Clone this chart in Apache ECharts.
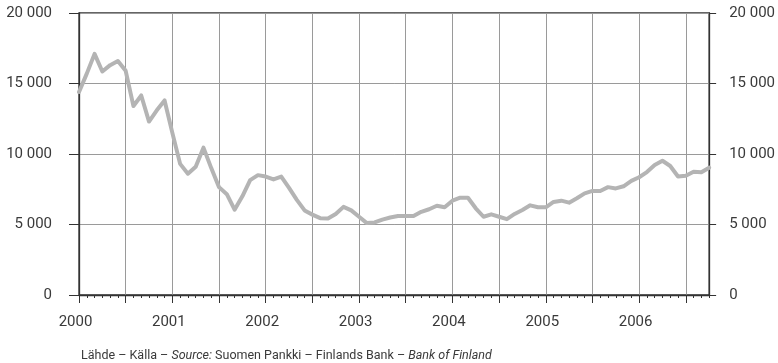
<!DOCTYPE html>
<html><head><meta charset="utf-8">
<script src="https://cdn.jsdelivr.net/npm/echarts@6/dist/echarts.min.js"></script>
<style>html,body{margin:0;padding:0;background:#fff}#c{width:778px;height:363px}</style>
</head><body><div id="c"></div>
<script>
const categories = [
 '2000-01','2000-02','2000-03','2000-04','2000-05','2000-06','2000-07','2000-08','2000-09','2000-10','2000-11','2000-12',
 '2001-01','2001-02','2001-03','2001-04','2001-05','2001-06','2001-07','2001-08','2001-09','2001-10','2001-11','2001-12',
 '2002-01','2002-02','2002-03','2002-04','2002-05','2002-06','2002-07','2002-08','2002-09','2002-10','2002-11','2002-12',
 '2003-01','2003-02','2003-03','2003-04','2003-05','2003-06','2003-07','2003-08','2003-09','2003-10','2003-11','2003-12',
 '2004-01','2004-02','2004-03','2004-04','2004-05','2004-06','2004-07','2004-08','2004-09','2004-10','2004-11','2004-12',
 '2005-01','2005-02','2005-03','2005-04','2005-05','2005-06','2005-07','2005-08','2005-09','2005-10','2005-11','2005-12',
 '2006-01','2006-02','2006-03','2006-04','2006-05','2006-06','2006-07','2006-08','2006-09','2006-10'
];
const values = [
 14400,15700,17100,15850,16300,16600,15900,13400,14150,12300,13100,13800,
 11500,9300,8600,9100,10450,9000,7650,7150,6050,7000,8150,8500,
 8400,8200,8400,7600,6750,6000,5700,5450,5420,5750,6250,6000,
 5550,5100,5150,5350,5500,5600,5600,5600,5900,6080,6330,6220,
 6690,6900,6900,6150,5550,5720,5550,5380,5750,6030,6360,6220,
 6220,6600,6690,6550,6860,7210,7380,7380,7650,7560,7710,8090,
 8350,8720,9220,9520,9150,8400,8460,8740,8700,9030
];
const yTicks = [0, 5000, 10000, 15000, 20000];
const sourceParts = ['Lähde – Källa – ', 'Source:', ' Suomen Pankki – Finlands Bank – ', 'Bank of Finland'];

const FONT = 'Roboto';
const TXT = '#3a3a3a';
function fmt(v) { return String(v).replace(/\B(?=(\d{3})+(?!\d))/g, ' '); }
const isYear = (idx, val) => val.endsWith('-01');
const isHalf = (idx, val) => val.endsWith('-01') || val.endsWith('-07');

const chart = echarts.init(document.getElementById('c'), null, { renderer: 'canvas' });
const yBase = {
  type: 'value', min: yTicks[0], max: yTicks[yTicks.length - 1], interval: yTicks[1] - yTicks[0],
  axisLine: { show: true, lineStyle: { color: '#333', width: 1.3 } },
  axisLabel: { formatter: fmt, fontFamily: FONT, fontSize: 15, color: TXT }
};
chart.setOption({
  animation: false,
  backgroundColor: '#fff',
  grid: { left: 79, right: 65, top: 13, bottom: 68, show: true, borderColor: '#333', borderWidth: 1.3, backgroundColor: 'transparent' },
  title: {
    left: 76, top: 344,
    text: '{n|' + sourceParts[0] + '}{i|' + sourceParts[1] + '}{n|' + sourceParts[2] + '}{i|' + sourceParts[3] + '}',
    textStyle: {
      fontWeight: 'normal',
      rich: {
        n: { fontFamily: FONT, fontSize: 12.5, color: TXT, fontWeight: 'normal' },
        i: { fontFamily: FONT, fontSize: 12.5, color: TXT, fontWeight: 'normal', fontStyle: 'italic' }
      }
    }
  },
  xAxis: [{
    type: 'category', data: categories, boundaryGap: false,
    axisLine: { show: true, lineStyle: { color: '#333', width: 1.3 } },
    axisTick: { show: true, interval: 0, length: 3, lineStyle: { color: '#333' } },
    axisLabel: { interval: isYear, formatter: v => v.slice(0, 4), margin: 20, fontFamily: FONT, fontSize: 15, color: TXT, padding: [0, 7, 0, 0] },
    splitLine: { show: true, interval: isHalf, lineStyle: { color: '#9a9a9a', width: 1 } }
  }, {
    type: 'category', data: categories, boundaryGap: false, position: 'bottom',
    axisLine: { show: false },
    axisTick: { show: true, interval: isHalf, length: 8, lineStyle: { color: '#333' } },
    axisLabel: { show: false },
    splitLine: { show: false }
  }],
  yAxis: [
    Object.assign({}, yBase, {
      position: 'left',
      axisTick: { show: true, length: 10, lineStyle: { color: '#333' } },
      axisLabel: Object.assign({}, yBase.axisLabel, { margin: 27 }),
      splitLine: { show: true, lineStyle: { color: '#9a9a9a', width: 1 } }
    }),
    Object.assign({}, yBase, {
      position: 'right',
      axisTick: { show: true, length: 7, lineStyle: { color: '#333' } },
      axisLabel: Object.assign({}, yBase.axisLabel, { margin: 20 }),
      splitLine: { show: false }
    })
  ],
  series: [{
    type: 'line', data: values, xAxisIndex: 0, yAxisIndex: 0,
    symbol: 'none', smooth: false,
    lineStyle: { color: '#b4b4b4', width: 4, join: 'round', cap: 'round' }
  }]
});
</script></body></html>
